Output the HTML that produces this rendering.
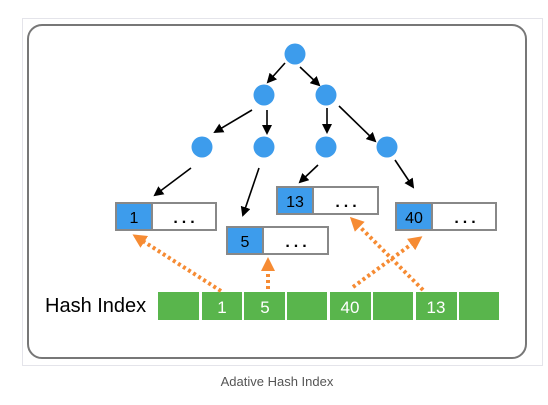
<!DOCTYPE html>
<html><head><style>
body{margin:0;background:#fff;width:548px;height:400px;overflow:hidden;font-family:"Liberation Sans",sans-serif}
</style></head><body>
<svg width="548" height="400" xmlns="http://www.w3.org/2000/svg">
<defs>
<marker id="a" markerWidth="10" markerHeight="10" refX="8" refY="5" orient="auto" markerUnits="userSpaceOnUse"><path d="M0,0 L10,5 L0,10 z" fill="#000"/></marker>
<marker id="o" markerWidth="14" markerHeight="14" refX="11" refY="7" orient="auto" markerUnits="userSpaceOnUse"><path d="M0,0 L14,7 L0,14 z" fill="#f68b33"/></marker>
</defs>
<rect x="22.5" y="18.5" width="520" height="347" fill="none" stroke="#e4e4ea"/>
<rect x="28" y="25" width="498" height="333" rx="14" fill="#fff" stroke="#777" stroke-width="2"/>
<g fill="#3d9cec">
<circle cx="295" cy="54" r="10.5"/>
<circle cx="264" cy="95" r="10.5"/><circle cx="326" cy="95" r="10.5"/>
<circle cx="202" cy="147" r="10.5"/><circle cx="264" cy="147" r="10.5"/><circle cx="326" cy="147" r="10.5"/><circle cx="387" cy="147" r="10.5"/>
</g>
<g stroke="#000" stroke-width="1.6" marker-end="url(#a)">
<line x1="285" y1="63" x2="268" y2="82"/>
<line x1="300" y1="67" x2="319" y2="85"/>
<line x1="252" y1="110" x2="215" y2="132"/>
<line x1="267" y1="110" x2="267" y2="133"/>
<line x1="327" y1="108" x2="327" y2="132"/>
<line x1="339" y1="106" x2="375" y2="141"/>
<line x1="191" y1="168" x2="155" y2="195"/>
<line x1="259" y1="168" x2="243" y2="215"/>
<line x1="318" y1="165" x2="300" y2="182"/>
<line x1="395" y1="160" x2="413" y2="187"/>
</g>
<g stroke="#888" stroke-width="2">
<rect x="116" y="203" width="100" height="27" fill="#fff"/><rect x="116" y="203" width="36" height="27" fill="#3d9cec"/>
<rect x="227" y="227" width="101" height="27" fill="#fff"/><rect x="227" y="227" width="36" height="27" fill="#3d9cec"/>
<rect x="277" y="187" width="101" height="27" fill="#fff"/><rect x="277" y="187" width="36" height="27" fill="#3d9cec"/>
<rect x="396" y="203" width="100" height="27" fill="#fff"/><rect x="396" y="203" width="36" height="27" fill="#3d9cec"/>
</g>
<g font-size="16" fill="#000" text-anchor="middle">
<text x="134" y="223">1</text><text x="186" y="223" font-weight="bold" letter-spacing="4">...</text>
<text x="245" y="247">5</text><text x="298" y="247" font-weight="bold" letter-spacing="4">...</text>
<text x="295" y="207">13</text><text x="348" y="207" font-weight="bold" letter-spacing="4">...</text>
<text x="414" y="223">40</text><text x="467" y="223" font-weight="bold" letter-spacing="4">...</text>
</g>
<g fill="#59b54c">
<rect x="158" y="292" width="41" height="28"/><rect x="202" y="292" width="40" height="28"/>
<rect x="244" y="292" width="41" height="28"/><rect x="287" y="292" width="40" height="28"/>
<rect x="330" y="292" width="41" height="28"/><rect x="373" y="292" width="40" height="28"/>
<rect x="416" y="292" width="41" height="28"/><rect x="459" y="292" width="40" height="28"/>
</g>
<g fill="#fff" font-size="17" text-anchor="middle">
<text x="222" y="313">1</text><text x="265" y="313">5</text><text x="350" y="313">40</text><text x="436" y="313">13</text>
</g>
<text x="45" y="312" font-size="20" fill="#000">Hash Index</text>
<g stroke="#f68b33" stroke-width="4" stroke-dasharray="3 3" fill="none" marker-end="url(#o)">
<line x1="221" y1="291" x2="135" y2="236"/>
<line x1="268" y1="289" x2="268" y2="260"/>
<line x1="353" y1="287" x2="420" y2="238"/>
<line x1="423" y1="290" x2="352" y2="219"/>
</g>
<text x="277" y="386" font-size="13" fill="#555" text-anchor="middle">Adative Hash Index</text>
</svg>
</body></html>
